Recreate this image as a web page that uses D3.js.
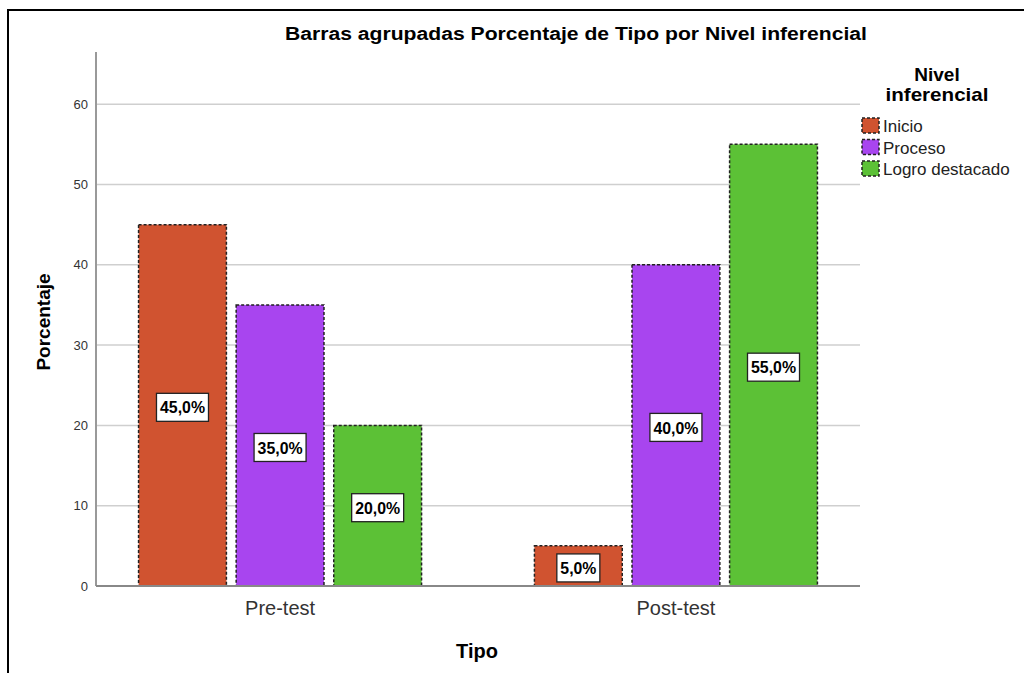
<!DOCTYPE html>
<html>
<head>
<meta charset="utf-8">
<script src="https://cdn.jsdelivr.net/npm/d3@7"></script>
<style>
  body { margin: 0; background: #fff; }
  svg { display: block; font-family: "Liberation Sans", Arial, sans-serif; }
</style>
</head>
<body>
<svg id="chart" width="1024" height="673"></svg>
<script>
// data
const categories = ['Pre-test', 'Post-test'];
const series = ['Inicio', 'Proceso', 'Logro destacado'];
const colors = ['#d05330', '#a845ef', '#5cc136'];
const values = {
    'Pre-test': [45, 35, 20],
    'Post-test': [5, 40, 55]
};
const yTicks = [0, 10, 20, 30, 40, 50, 60];

const svg = d3.select('#chart');

// outer frame
svg.append('path')
    .attr('d', 'M8,1024 L8,10 L1030,10')
    .attr('fill', 'none').attr('stroke', '#000').attr('stroke-width', 2);

const plotL = 96, plotR = 860, plotT = 52, plotB = 586;

const y = d3.scaleLinear().domain([0, 66.5]).range([plotB, plotT]);
const x0 = d3.scalePoint().domain(categories).range([plotL, plotR]).padding(0.465);
const x1 = d3.scaleBand().domain(series).range([-141.5, 141.5]).paddingInner(0.1);
const color = d3.scaleOrdinal().domain(series).range(colors);

// gridlines
svg.append('g')
    .selectAll('line')
    .data(yTicks.filter(d => d > 0))
    .enter()
    .append('line')
    .attr('x1', plotL).attr('x2', plotR)
    .attr('y1', d => y(d)).attr('y2', d => y(d))
    .attr('stroke', '#cfcfcf').attr('stroke-width', 1.5);

// y axis
const yAxis = svg.append('g')
    .attr('transform', `translate(${plotL},0)`)
    .call(d3.axisLeft(y).tickValues(yTicks).tickSize(0).tickPadding(8));
yAxis.select('.domain').remove();
yAxis.selectAll('text').attr('font-size', 13).attr('fill', '#333')
    .attr('font-family', '"Liberation Sans", Arial, sans-serif');
svg.append('line')
    .attr('x1', plotL).attr('x2', plotL).attr('y1', plotT).attr('y2', plotB)
    .attr('stroke', '#999').attr('stroke-width', 2);

// bars
const groups = svg.append('g')
    .selectAll('g')
    .data(categories)
    .enter()
    .append('g')
    .attr('transform', d => `translate(${x0(d)},0)`);

const bars = groups.selectAll('g')
    .data(c => series.map((s, i) => ({ cat: c, s: s, v: values[c][i] })))
    .enter()
    .append('g');

bars.append('rect')
    .attr('x', d => x1(d.s))
    .attr('width', x1.bandwidth())
    .attr('y', d => y(d.v))
    .attr('height', d => y(0) - y(d.v))
    .attr('fill', d => color(d.s))
    .attr('stroke', '#222').attr('stroke-width', 1.5)
    .attr('stroke-dasharray', '3,2');

// value labels (narrow, so squeezed to ~9px a character)
const fmt = v => d3.format('.1f')(v).replace('.', ',') + '%';
const txtW = d => fmt(d.v).length * 9;
const labH = 28;
bars.append('rect')
    .attr('x', d => x1(d.s) + x1.bandwidth() / 2 - (txtW(d) + 7) / 2)
    .attr('y', d => (y(d.v) + y(0)) / 2 - labH / 2 + 2)
    .attr('width', d => txtW(d) + 7).attr('height', labH)
    .attr('fill', '#fff').attr('stroke', '#222').attr('stroke-width', 1.3);
bars.append('text')
    .attr('x', d => x1(d.s) + x1.bandwidth() / 2)
    .attr('y', d => (y(d.v) + y(0)) / 2 + 2)
    .attr('dy', '0.36em')
    .attr('text-anchor', 'middle')
    .attr('font-size', 17).attr('font-weight', 'bold')
    .attr('textLength', d => txtW(d)).attr('lengthAdjust', 'spacingAndGlyphs')
    .text(d => fmt(d.v));

// x axis baseline
svg.append('line')
    .attr('x1', plotL).attr('x2', plotR).attr('y1', plotB).attr('y2', plotB)
    .attr('stroke', '#888').attr('stroke-width', 2);

svg.append('g')
    .selectAll('text')
    .data(categories)
    .enter()
    .append('text')
    .attr('x', d => x0(d))
    .attr('y', 615)
    .attr('text-anchor', 'middle')
    .attr('font-size', 20).attr('fill', '#333')
    .text(d => d);

// titles
svg.append('text')
    .attr('x', 576).attr('y', 40)
    .attr('text-anchor', 'middle')
    .attr('font-size', 18).attr('font-weight', 'bold')
    .attr('textLength', 582).attr('lengthAdjust', 'spacingAndGlyphs')
    .text('Barras agrupadas Porcentaje de Tipo por Nivel inferencial');

svg.append('text')
    .attr('x', 477).attr('y', 658)
    .attr('text-anchor', 'middle')
    .attr('font-size', 20).attr('font-weight', 'bold')
    .text('Tipo');

svg.append('text')
    .attr('transform', 'translate(50,322) rotate(-90)')
    .attr('text-anchor', 'middle')
    .attr('font-size', 19).attr('font-weight', 'bold')
    .text('Porcentaje');

// legend
const legend = svg.append('g');
legend.append('text')
    .attr('x', 937).attr('y', 81)
    .attr('text-anchor', 'middle')
    .attr('font-size', 19).attr('font-weight', 'bold')
    .text('Nivel');
legend.append('text')
    .attr('x', 937).attr('y', 101)
    .attr('text-anchor', 'middle')
    .attr('font-size', 19).attr('font-weight', 'bold')
    .attr('textLength', 103).attr('lengthAdjust', 'spacingAndGlyphs')
    .text('inferencial');

const items = legend.selectAll('g.item')
    .data(series)
    .enter()
    .append('g')
    .attr('class', 'item')
    .attr('transform', (d, i) => `translate(862,${118 + i * 21.5})`);
items.append('rect')
    .attr('width', 17).attr('height', 15)
    .attr('fill', d => color(d))
    .attr('stroke', '#222').attr('stroke-width', 1.5)
    .attr('stroke-dasharray', '3,2');
items.append('text')
    .attr('x', 21).attr('y', 8).attr('dy', '0.36em')
    .attr('font-size', 17).attr('fill', '#222')
    .text(d => d);
</script>
</body>
</html>
